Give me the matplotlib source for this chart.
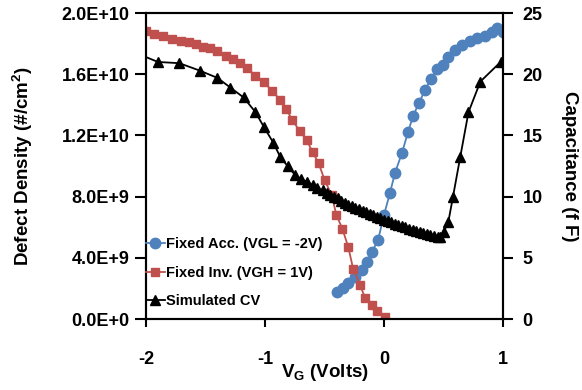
import matplotlib
matplotlib.use('Agg')
import matplotlib.pyplot as plt

# Fixed Acc. (VGL = -2V), defect density in 1e9 /cm2
acc_v = [-0.395, -0.345, -0.303, -0.244, -0.185, -0.143, -0.101, -0.05, 0.0, 0.05,
         0.092, 0.151, 0.202, 0.244, 0.294, 0.345, 0.395, 0.445, 0.496, 0.538,
         0.597, 0.655, 0.723, 0.782, 0.849, 0.908, 0.95, 1.0]
acc_n = [1.76, 2.03, 2.35, 2.75, 3.2, 3.73, 4.38, 5.16, 6.8, 8.24,
         9.54, 10.85, 12.22, 13.27, 14.12, 14.97, 15.69, 16.34, 16.6, 17.12,
         17.58, 17.91, 18.17, 18.37, 18.5, 18.76, 19.02, 18.76]

# Fixed Inv. (VGH = 1V)
inv_v = [-2.0, -1.93, -1.86, -1.78, -1.71, -1.64, -1.58, -1.52, -1.46, -1.4,
         -1.33, -1.27, -1.21, -1.15, -1.08, -1.01, -0.94, -0.87, -0.82, -0.77,
         -0.71, -0.65, -0.6, -0.55, -0.5, -0.44, -0.4, -0.35, -0.3, -0.26,
         -0.2, -0.16, -0.1, -0.06, 0.01]
inv_n = [18.8, 18.6, 18.5, 18.3, 18.2, 18.1, 18.0, 17.8, 17.7, 17.5,
         17.2, 17.0, 16.7, 16.4, 15.9, 15.5, 14.9, 14.3, 13.7, 13.0,
         12.3, 11.7, 10.9, 10.2, 9.1, 8.1, 6.8, 5.9, 4.7, 3.3,
         2.2, 1.4, 0.9, 0.5, 0.1]

# Simulated CV, capacitance in fF
cv_v = [-2.0, -1.9, -1.72, -1.55, -1.4, -1.29, -1.18, -1.08, -1.01, -0.93,
        -0.87, -0.81, -0.75, -0.7, -0.65, -0.6, -0.56, -0.51, -0.48, -0.45,
        -0.42, -0.39, -0.36, -0.33, -0.3, -0.27, -0.24, -0.21, -0.18, -0.15,
        -0.12, -0.09, -0.06, -0.03, 0.0, 0.03, 0.06, 0.09, 0.12, 0.15,
        0.18, 0.21, 0.24, 0.27, 0.3, 0.33, 0.36, 0.39, 0.42, 0.45,
        0.47, 0.5, 0.54, 0.58, 0.64, 0.71, 0.81, 0.98]
cv_c = [21.4, 21.0, 20.9, 20.3, 19.7, 18.9, 18.1, 16.9, 15.7, 14.4,
        13.2, 12.5, 11.8, 11.45, 11.2, 10.95, 10.7, 10.5, 10.3, 10.15,
        10.0, 9.85, 9.65, 9.5, 9.35, 9.23, 9.1, 9.0, 8.86, 8.72,
        8.6, 8.47, 8.36, 8.24, 8.12, 8.0, 7.9, 7.8, 7.7, 7.6,
        7.5, 7.38, 7.28, 7.2, 7.11, 7.03, 6.94, 6.86, 6.8, 6.74,
        6.7, 7.1, 7.9, 10.0, 13.2, 16.9, 19.4, 21.0]

left_ticks = [0, 4, 8, 12, 16, 20]
left_labels = ['0.0E+0', '4.0E+9', '8.0E+9', '1.2E+10', '1.6E+10', '2.0E+10']
right_ticks = [0, 5, 10, 15, 20, 25]
x_ticks = [-2, -1, 0, 1]

plt.rcParams['font.family'] = ['Liberation Sans', 'DejaVu Sans']
plt.rcParams['font.weight'] = 'bold'
plt.rcParams['axes.unicode_minus'] = False
plt.rcParams['mathtext.fontset'] = 'custom'
plt.rcParams['mathtext.rm'] = 'Liberation Sans:bold'
plt.rcParams['mathtext.bf'] = 'Liberation Sans:bold'
plt.rcParams['mathtext.default'] = 'bf'

blue = '#4F81BD'
red = '#C0504D'

fig = plt.figure(figsize=(5.82, 3.9), dpi=100)
ax = fig.add_axes([146/582, 1 - 319/390, 357/582, 306/390])
ax2 = ax.twinx()

l1, = ax.plot(acc_v, acc_n, color=blue, marker='o', ms=7.5, lw=1.3,
              label='Fixed Acc. (VGL = -2V)')
l2, = ax.plot(inv_v, inv_n, color=red, marker='s', ms=5.5, lw=1.3,
              label='Fixed Inv. (VGH = 1V)')
l3, = ax2.plot(cv_v, cv_c, color='black', marker='^', ms=7.5, lw=1.3,
               markevery=list(range(1, len(cv_v))), label='Simulated CV')

ax.set_xlim(-2, 1)
ax.set_ylim(0, 20)
ax2.set_ylim(0, 25)
ax.set_xticks(x_ticks)
ax.set_yticks(left_ticks)
ax.set_yticklabels(left_labels)
ax2.set_yticks(right_ticks)

for a in (ax, ax2):
    for s in a.spines.values():
        s.set_linewidth(1.5)
ax.tick_params(axis='y', length=8, width=1.5, labelsize=13, pad=4)
ax.tick_params(axis='x', length=6, width=1.5, labelsize=13, pad=17)
ax2.tick_params(axis='y', length=7, width=1.5, labelsize=13, pad=7)

ax.set_ylabel('Defect Density (#/cm$^2$)', fontsize=13.5, fontweight='bold')
ax.yaxis.set_label_coords(-0.31, 0.5)
ax2.set_ylabel('Capacitance (f F)', fontsize=13.5, fontweight='bold', rotation=270, va='bottom')
ax2.yaxis.set_label_coords(1.163, 0.5)
ax.set_xlabel('V$_G$ (Volts)', fontsize=13.5, fontweight='bold')
ax.xaxis.set_label_coords(0.5, -0.14)

ax2.legend(handles=[l1, l2, l3], loc='lower left', bbox_to_anchor=(0.0, 0.035),
           frameon=False, fontsize=10.5, handlelength=1.3, handletextpad=0.1,
           borderpad=0, borderaxespad=0, labelspacing=1.0)

fig.savefig('out.png', dpi=100)
